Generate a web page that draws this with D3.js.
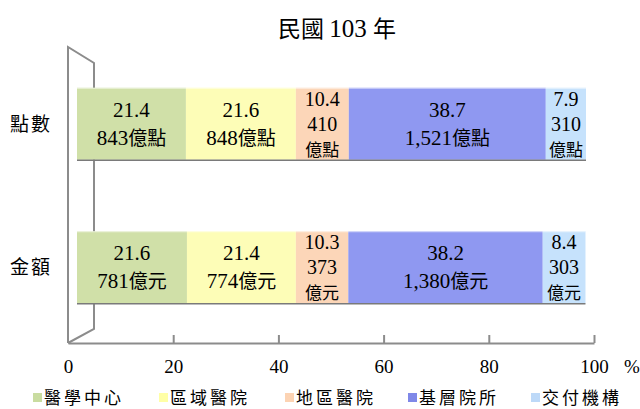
<!DOCTYPE html>
<html><head><meta charset="utf-8">
<script src="https://cdn.jsdelivr.net/npm/d3@7"></script>
<style>
body{margin:0;background:#fff;}
svg{display:block;}
</style></head>
<body>
<svg id="chart" width="640" height="409"></svg>
<script>
const title = "民國 103 年";
const categories = ["點數", "金額"];
const series = ["醫學中心", "區域醫院", "地區醫院", "基層院所", "交付機構"];
const pctPoints = [21.4, 21.6, 10.4, 38.7, 7.9];
const pctAmount = [21.6, 21.4, 10.3, 38.2, 8.4];
const valPoints = ["843", "848", "410", "1,521", "310"];
const valAmount = ["781", "774", "373", "1,380", "303"];
const units = ["億點", "億元"];
const tickValues = [0, 20, 40, 60, 80, 100];
const colors = ["#d0e0a8", "#fdfdb7", "#fcd6b8", "#8f98f1", "#c6e2fc"];
const legendColors = ["#c9dca0", "#ffffa6", "#fcd3b3", "#7f88e8", "#bdd9f8"];

const FONT = "'Liberation Serif','Times New Roman','Noto Sans CJK TC',serif";
const CJK = "'Noto Sans CJK TC','Liberation Serif',sans-serif";

const svg = d3.select("#chart");
const xBar = d3.scaleLinear().domain([0, 100]).range([77, 586]);
const xAxisScale = d3.scaleLinear().domain([0, 100]).range([68, 594]);
const y = d3.scalePoint().domain(categories).range([52, 339]).padding(0.5);
const barH = 72;

// title
const tt = svg.append("text").attr("x", 337).attr("y", 37).attr("text-anchor", "middle")
  .style("font-family", FONT).style("font-size", "25px");
tt.append("tspan").style("font-family", CJK).style("font-size", "23px").text("民國 ");
tt.append("tspan").text("103 ");
tt.append("tspan").style("font-family", CJK).style("font-size", "23px").text("年");

// 3D left wall
const wall = svg.append("g").attr("fill", "none").attr("stroke", "#8c8c8c").attr("stroke-width", 2);
wall.append("path").attr("d", "M68,343 L68,47 L94,63 L94,329 L68,343");

// floor axis
const axisG = svg.append("g").attr("transform", "translate(0,343)")
  .call(d3.axisBottom(xAxisScale).tickValues(tickValues).tickSizeInner(-8).tickSizeOuter(0).tickFormat(d3.format("d")));
axisG.select(".domain").attr("stroke", "#8c8c8c").attr("stroke-width", 2);
axisG.selectAll(".tick line").attr("stroke", "#8c8c8c").attr("stroke-width", 2)
  .filter(d => d === 0).remove();
axisG.selectAll(".tick text").attr("y", 30).attr("dy", 0)
  .style("font-family", FONT).style("font-size", "19px").attr("fill", "#000");
svg.append("text").attr("x", 632).attr("y", 373).attr("text-anchor", "middle")
  .style("font-family", FONT).style("font-size", "19px").text("%");

// category labels
svg.selectAll(".cat").data(categories).enter().append("text")
  .attr("x", 31).attr("y", d => y(d) + 7).attr("text-anchor", "middle")
  .style("font-family", CJK).style("font-size", "19px").style("letter-spacing", "2px")
  .text(d => d);

// bars
const rows = [
  { cat: categories[0], pct: pctPoints, val: valPoints, unit: units[0] },
  { cat: categories[1], pct: pctAmount, val: valAmount, unit: units[1] }
];
rows.forEach(r => {
  let cum = 0;
  const top = y(r.cat) - barH / 2;
  const g = svg.append("g");
  const segs = r.pct.map((p, i) => { const s = { i, p, x0: cum, x1: cum + p, v: r.val[i] }; cum += p; return s; });
  g.selectAll("rect").data(segs).enter().append("rect")
    .attr("x", d => xBar(d.x0)).attr("width", d => xBar(d.x1) - xBar(d.x0))
    .attr("y", top).attr("height", barH).attr("fill", d => colors[d.i]);
  g.append("line").attr("x1", xBar(0)).attr("x2", xBar(cum)).attr("y1", top + 0.5).attr("y2", top + 0.5)
    .attr("stroke", "#ffffff").attr("stroke-opacity", 0.6);
  g.append("line").attr("x1", xBar(0)).attr("x2", xBar(cum)).attr("y1", top + barH + 0.5).attr("y2", top + barH + 0.5)
    .attr("stroke", "#7a7a7a").attr("stroke-width", 1.5);
  segs.forEach(s => {
    const cx = (xBar(s.x0) + xBar(s.x1)) / 2;
    const w = xBar(s.x1) - xBar(s.x0);
    const three = w < 70;
    const lines = three ? [s.p.toFixed(1), s.v, r.unit] : [s.p.toFixed(1), s.v + r.unit];
    const cy = y(r.cat);
    const step = three ? 25 : 28;
    lines.forEach((t, k) => {
      const ly = cy + (k - (lines.length - 1) / 2) * step + 7;
      const txt = g.append("text").attr("x", cx).attr("y", ly).attr("text-anchor", "middle")
        .style("font-family", FONT).style("font-size", three ? "20px" : "21px");
      const m = t.match(/^([0-9.,]*)(.*)$/);
      if (m[1]) txt.append("tspan").text(m[1]);
      if (m[2]) txt.append("tspan").style("font-family", CJK).style("font-size", three ? "17px" : "19px").text(m[2]);
    });
  });
});

// legend
const legX = [33, 159, 285, 408, 531];
const leg = svg.selectAll(".leg").data(series).enter().append("g")
  .attr("transform", (d, i) => `translate(${legX[i]},398)`);
leg.append("rect").attr("x", 0).attr("y", -5).attr("width", 9).attr("height", 9)
  .attr("fill", (d, i) => legendColors[i]);
leg.append("text").attr("x", 11).attr("y", 6)
  .style("font-family", CJK).style("font-size", "17px").style("letter-spacing", "3px")
  .text(d => d);
</script>
</body></html>
